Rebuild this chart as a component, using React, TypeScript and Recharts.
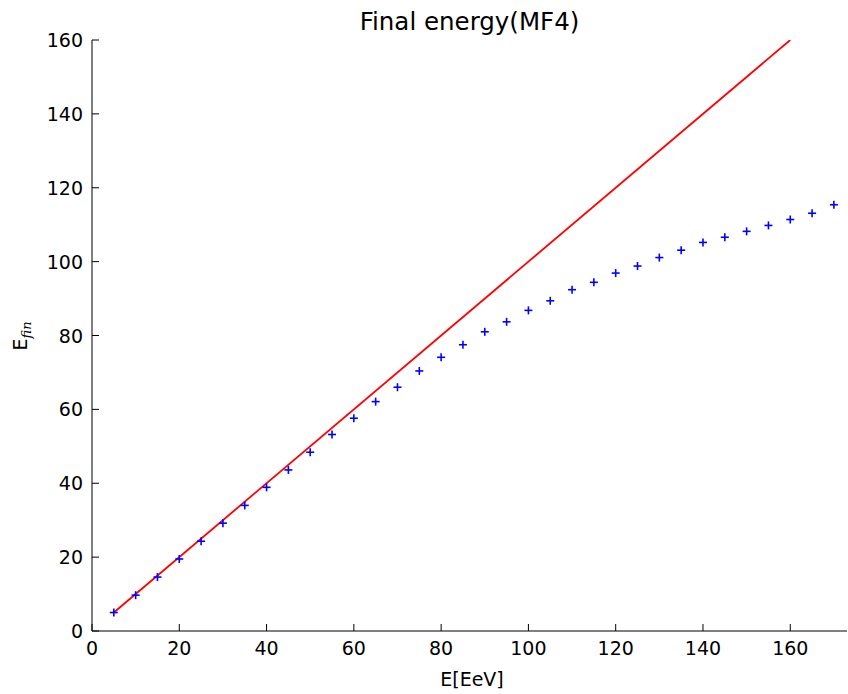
import React from 'react';
import { ScatterChart, Scatter, XAxis, YAxis } from 'recharts';

const energyIn = [5, 10, 15, 20, 25, 30, 35, 40, 45, 50, 55, 60, 65, 70, 75, 80, 85, 90, 95, 100, 105, 110, 115, 120, 125, 130, 135, 140, 145, 150, 155, 160, 165, 170];
const energyFin = [5.0, 9.7, 14.6, 19.5, 24.3, 29.2, 34.0, 38.9, 43.6, 48.4, 53.2, 57.6, 62.1, 66.0, 70.4, 74.1, 77.5, 81.0, 83.7, 86.8, 89.4, 92.4, 94.4, 96.9, 98.8, 101.1, 103.1, 105.2, 106.6, 108.2, 109.8, 111.4, 113.1, 115.4];
const diagX = [5, 160];
const diagY = [5, 160];
const xTicks = [0, 20, 40, 60, 80, 100, 120, 140, 160];
const yTicks = [0, 20, 40, 60, 80, 100, 120, 140, 160];

const points = energyIn.map((x, i) => ({ x, y: energyFin[i] }));
const diag = diagX.map((x, i) => ({ x, y: diagY[i] }));

const FONT = 'DejaVu Sans';
const TICK_LEN = 7;

const BottomTick = (props: any) => {
  const { x, y, payload } = props;
  return (
    <g>
      <line x1={x} x2={x} y1={y} y2={y - TICK_LEN} stroke="#000" strokeWidth={1} />
      <text x={x} y={y + 23.5} textAnchor="middle" fontSize={19} fontFamily={FONT} fill="#000">
        {payload.value}
      </text>
    </g>
  );
};

const TopTick = (props: any) => {
  const { x, y } = props;
  return <line x1={x} x2={x} y1={y} y2={y + TICK_LEN} stroke="#000" strokeWidth={1} />;
};

const LeftTick = (props: any) => {
  const { x, y, payload } = props;
  return (
    <g>
      <line x1={x} x2={x + TICK_LEN} y1={y} y2={y} stroke="#000" strokeWidth={1} />
      <text x={x - 9} y={y + 7} textAnchor="end" fontSize={19} fontFamily={FONT} fill="#000">
        {payload.value}
      </text>
    </g>
  );
};

const RightTick = (props: any) => {
  const { x, y } = props;
  return <line x1={x} x2={x - TICK_LEN} y1={y} y2={y} stroke="#000" strokeWidth={1} />;
};

const PlusShape = (props: any) => {
  const { cx, cy } = props;
  if (cx == null || cy == null) return <g />;
  const r = 4;
  return (
    <g>
      <line x1={cx - r} x2={cx + r} y1={cy} y2={cy} stroke="#0000ff" strokeWidth={1.6} />
      <line x1={cx} x2={cx} y1={cy - r} y2={cy + r} stroke="#0000ff" strokeWidth={1.6} />
    </g>
  );
};

const NoShape = () => <g />;

export default function App() {
  return (
    <div style={{ position: 'absolute', left: 0, top: 0, width: 848, height: 694, background: '#fff' }}>
      <ScatterChart width={848} height={694} margin={{ top: 40, right: 1, bottom: 0, left: 0 }}>
        <XAxis
          xAxisId="b"
          type="number"
          dataKey="x"
          orientation="bottom"
          domain={[0, 173]}
          allowDataOverflow
          ticks={xTicks}
          interval={0}
          height={63}
          tickSize={0}
          tickMargin={0}
          tickLine={false}
          axisLine={{ stroke: '#000', strokeWidth: 1 }}
          tick={<BottomTick />}
        />
        <XAxis
          xAxisId="t"
          type="number"
          dataKey="x"
          orientation="top"
          domain={[0, 173]}
          allowDataOverflow
          ticks={xTicks}
          interval={0}
          height={0}
          tickSize={0}
          tickMargin={0}
          tickLine={false}
          axisLine={{ stroke: '#000', strokeWidth: 1 }}
          tick={<TopTick />}
        />
        <YAxis
          yAxisId="l"
          type="number"
          dataKey="y"
          orientation="left"
          domain={[0, 160]}
          allowDataOverflow
          ticks={yTicks}
          interval={0}
          width={92}
          tickSize={0}
          tickMargin={0}
          tickLine={false}
          axisLine={{ stroke: '#000', strokeWidth: 1 }}
          tick={<LeftTick />}
        />
        <YAxis
          yAxisId="r"
          type="number"
          dataKey="y"
          orientation="right"
          domain={[0, 160]}
          allowDataOverflow
          ticks={yTicks}
          interval={0}
          width={0}
          tickSize={0}
          tickMargin={0}
          tickLine={false}
          axisLine={{ stroke: '#000', strokeWidth: 1 }}
          tick={<RightTick />}
        />
        <Scatter
          xAxisId="b"
          yAxisId="l"
          data={diag}
          line={{ stroke: '#ff0000', strokeWidth: 1.8 }}
          shape={<NoShape />}
          isAnimationActive={false}
        />
        <Scatter
          xAxisId="b"
          yAxisId="l"
          data={points}
          shape={<PlusShape />}
          isAnimationActive={false}
        />
      </ScatterChart>
      <svg width={848} height={694} style={{ position: 'absolute', left: 0, top: 0, pointerEvents: 'none' }}>
        <text x={469.5} y={30} textAnchor="middle" fontSize={24.5} fontFamily={FONT} fill="#000">
          Final energy(MF4)
        </text>
        <text x={472} y={686} textAnchor="middle" fontSize={19} fontFamily={FONT} fill="#000">
          E[EeV]
        </text>
        <text transform="translate(27,336) rotate(-90)" textAnchor="middle" fontSize={19} fontFamily={FONT} fill="#000">
          E
          <tspan fontFamily="DejaVu Serif" fontStyle="italic" fontSize={13} dy={4}>
            fin
          </tspan>
        </text>
      </svg>
    </div>
  );
}
